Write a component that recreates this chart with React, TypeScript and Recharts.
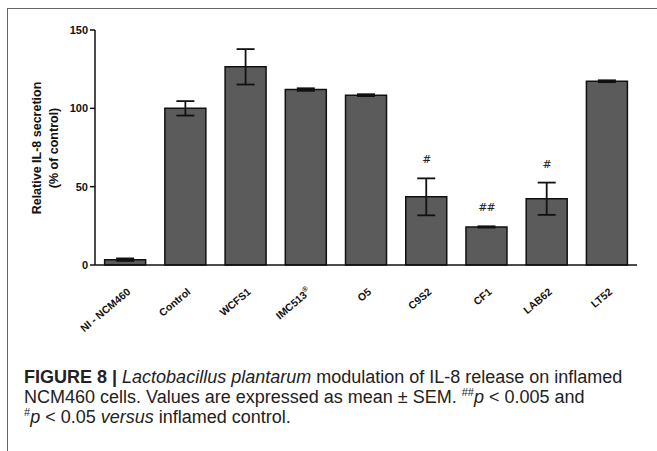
import React from "react";
import { BarChart, Bar, XAxis, YAxis, ErrorBar, LabelList } from "recharts";

const strains = ["NI - NCM460", "Control", "WCFS1", "IMC513", "O5", "C9S2", "CF1", "LAB62", "LT52"];
const secretion = [3.4, 100, 126.5, 112, 108.4, 43.5, 24.3, 42.3, 117.3];
const sem = [0.8, 4.6, 11.3, 0.8, 0.6, 11.8, 0.4, 10.3, 0.6];
const marks = ["", "", "", "", "", "#", "##", "#", ""];
const yTicks = [0, 50, 100, 150];

const data = strains.map((name, i) => ({
  name,
  value: secretion[i],
  err: sem[i],
  sig: marks[i],
}));

const FONT = "'Liberation Sans', Arial, sans-serif";

const StrainTick = (props: any) => {
  const { x, y, payload } = props;
  const isImc = payload.value === "IMC513";
  return (
    <g transform={`translate(${x + 6},${y + 20})`}>
      <text
        transform="rotate(-40)"
        textAnchor="end"
        fontFamily={FONT}
        fontWeight="bold"
        fontSize={10.5}
        fill="#111"
      >
        {isImc ? "IMC513" : payload.value}
        {isImc && (
          <tspan dy={-5} fontSize={7}>
            ®
          </tspan>
        )}
      </text>
    </g>
  );
};

const SigLabel = (props: any) => {
  const { x, y, width, height, index, value } = props;
  if (!value) return null;
  const pxPerUnit = height / secretion[index];
  const errTop = y - sem[index] * pxPerUnit;
  return (
    <text
      x={x + width / 2}
      y={errTop - 15}
      textAnchor="middle"
      fontFamily="'DejaVu Serif', serif"
      fontSize={11}
      letterSpacing={-1}
      fill="#222"
    >
      {value}
    </text>
  );
};

export default function App() {
  return (
    <div style={{ position: "absolute", left: 0, top: 0, width: 657, height: 451, background: "#fff" }}>
      <div
        style={{
          position: "absolute",
          left: 7,
          top: 8,
          width: 650,
          height: 443,
          borderTop: "1.5px solid #666",
          borderLeft: "1.5px solid #666",
        }}
      />
      <div style={{ position: "absolute", left: 0, top: 0 }}>
        <BarChart
          width={657}
          height={340}
          data={data}
          margin={{ top: 30, right: 20, bottom: 45, left: 35 }}
          barCategoryGap="16%"
        >
          <XAxis
            dataKey="name"
            interval={0}
            height={30}
            tick={<StrainTick />}
            tickLine={false}
            axisLine={{ stroke: "#111", strokeWidth: 1.5 }}
          />
          <YAxis
            width={60}
            domain={[0, 150]}
            ticks={yTicks}
            tickSize={5}
            tickLine={{ stroke: "#111", strokeWidth: 1.5 }}
            axisLine={{ stroke: "#111", strokeWidth: 1.5 }}
            tick={{ fontFamily: FONT, fontWeight: "bold", fontSize: 11, fill: "#111" }}
          />
          <Bar dataKey="value" fill="#5b5b5b" stroke="#111" strokeWidth={1.5} isAnimationActive={false}>
            <ErrorBar dataKey="err" width={9} stroke="#111" strokeWidth={1.8} direction="y" />
            <LabelList dataKey="sig" content={<SigLabel />} />
          </Bar>
        </BarChart>
      </div>
      <div
        style={{
          position: "absolute",
          left: 46,
          top: 148,
          transform: "translate(-50%, -50%) rotate(-90deg)",
          fontFamily: FONT,
          fontWeight: "bold",
          fontSize: 12.5,
          lineHeight: "17px",
          textAlign: "center",
          whiteSpace: "nowrap",
          color: "#111",
        }}
      >
        Relative IL-8 secretion
        <br />
        (% of control)
      </div>
      <div
        style={{
          position: "absolute",
          left: 24,
          top: 367,
          width: 633,
          fontFamily: FONT,
          fontSize: 18,
          lineHeight: "20px",
          color: "#222",
          whiteSpace: "nowrap",
        }}
      >
        <b>FIGURE 8 |</b> <i>Lactobacillus plantarum</i> modulation of IL-8 release on inflamed
        <br />
        NCM460 cells. Values are expressed as mean ± SEM. <sup style={{ fontSize: 11, lineHeight: 0 }}>##</sup>
        <i>p</i> &lt; 0.005 and
        <br />
        <sup style={{ fontSize: 11, lineHeight: 0 }}>#</sup>
        <i>p</i> &lt; 0.05 <i>versus</i> inflamed control.
      </div>
    </div>
  );
}
